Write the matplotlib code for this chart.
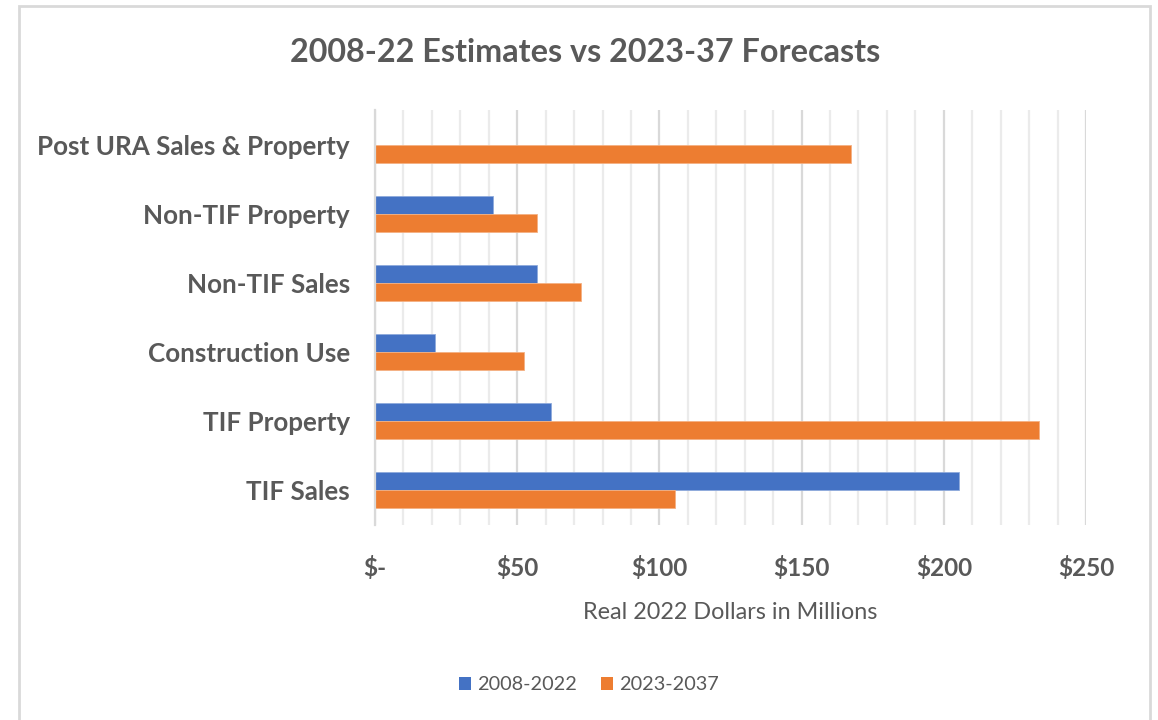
import numpy as np
import matplotlib.pyplot as plt
from matplotlib.patches import Rectangle, Patch
from matplotlib.ticker import MultipleLocator

plt.rcParams['font.family'] = ['Lato', 'DejaVu Sans']

categories = ['TIF Sales', 'TIF Property', 'Construction Use',
              'Non-TIF Sales', 'Non-TIF Property', 'Post URA Sales & Property']
est_2008_2022 = [205.5, 62, 21, 57, 41.5, 0]
fc_2023_2037 = [105.5, 233.5, 52.5, 72.5, 57, 167.5]
series_names = ['2008-2022', '2023-2037']
xticks = [0, 50, 100, 150, 200, 250]
xtick_labels = ['$-', '$50', '$100', '$150', '$200', '$250']

blue = '#4472c4'
orange = '#ed7d31'
txt = '#595959'

fig = plt.figure(figsize=(11.58, 7.2), dpi=100)
ax = fig.add_axes([375/1158, 1-525/720, (1086-375)/1158, (525-110)/720])

y = np.arange(len(categories))
h = 0.26
ax.barh(y + h/2, est_2008_2022, height=h, color=blue, edgecolor='#8faadc', linewidth=0.6, zorder=3)
ax.barh(y - h/2, fc_2023_2037, height=h, color=orange, edgecolor='#f4b183', linewidth=0.6, zorder=3)

ax.set_xlim(0, 250)
ax.set_ylim(-0.5, len(categories) - 0.5)
ax.set_yticks(y)
ax.set_yticklabels(categories, fontsize=18.7, fontweight='bold', color=txt)
ax.set_xticks(xticks)
ax.set_xticklabels(xtick_labels, fontsize=17.5, fontweight='bold', color=txt)
ax.xaxis.set_minor_locator(MultipleLocator(10))
ax.tick_params(axis='both', which='both', length=0)
ax.tick_params(axis='y', pad=18)
ax.tick_params(axis='x', pad=22)
ax.grid(axis='x', which='minor', color='#ebebeb', linewidth=1.6, zorder=0)
ax.grid(axis='x', which='major', color='#d9d9d9', linewidth=1.6, zorder=0)
for s in ['top', 'right', 'bottom']:
    ax.spines[s].set_visible(False)
ax.spines['left'].set_color('#d9d9d9')
ax.spines['left'].set_linewidth(1.6)
ax.spines['left'].set_zorder(4)

ax.set_xlabel('Real 2022 Dollars in Millions', fontsize=16.8, color=txt, labelpad=16)
fig.text(585/1158, 1-53/720, '2008-22 Estimates vs 2023-37 Forecasts', ha='center', va='center',
         fontsize=23.3, fontweight='bold', color=txt)

handles = [Patch(facecolor=blue), Patch(facecolor=orange)]
fig.legend(handles, series_names, loc='center', bbox_to_anchor=(589/1158, 1-685/720), ncol=2,
           frameon=False, fontsize=14.3, labelcolor=txt, handlelength=0.6, handleheight=0.6,
           handletextpad=0.3, columnspacing=1.2)

fig.patches.append(Rectangle((19/1158, -0.05), (1150-19)/1158, 1.05-6/720, transform=fig.transFigure,
                             fill=False, edgecolor='#d9d9d9', linewidth=2))

fig.savefig('out.png', dpi=100)
